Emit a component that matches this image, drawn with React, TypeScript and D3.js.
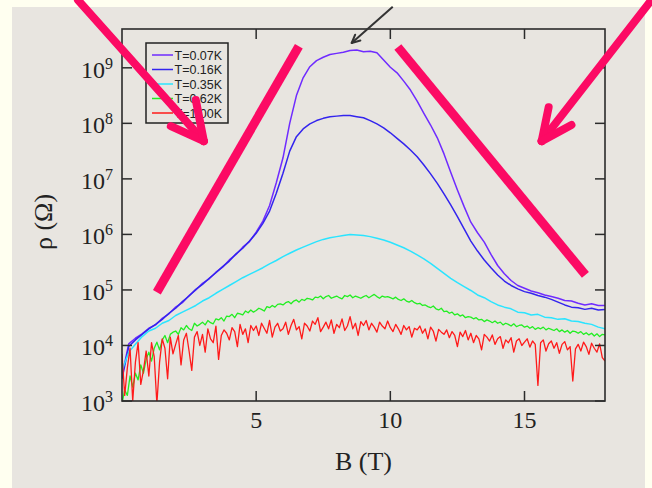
import React from 'react';
import * as d3 from 'd3';

// ---------- data ----------
const xDomain: [number, number] = [0, 18];
const yDomain: [number, number] = [1e3, 5e9];
const xTickValues = [5, 10, 15];
const yTickExponents = [3, 4, 5, 6, 7, 8, 9];
const seriesLabels = ['T=0.07K', 'T=0.16K', 'T=0.35K', 'T=0.62K', 'T=1.00K'];
const seriesColors = ['#6f2bff', '#3324ee', '#2ae4ff', '#22ee22', '#ff1a1a'];

// log10(rho) sampled every 0.25 T from 0 to 18 T
const smoothStep = 0.25;
const logRho007 = [
  3.45, 4.03, 4.13, 4.21, 4.31, 4.37, 4.49, 4.57, 4.69, 4.77, 4.90, 5.00, 5.12, 5.20, 5.32, 5.41,
  5.54, 5.64, 5.77, 5.87, 6.04, 6.24, 6.52, 6.93, 7.38, 8.00, 8.50, 8.82, 9.02, 9.13, 9.19, 9.24,
  9.26, 9.28, 9.31, 9.32, 9.29, 9.30, 9.27, 9.14, 9.01, 8.91, 8.76, 8.60, 8.40, 8.18, 7.97, 7.74,
  7.45, 7.12, 6.80, 6.50, 6.22, 6.03, 5.86, 5.64, 5.44, 5.29, 5.17, 5.08, 5.03, 4.98, 4.95, 4.91,
  4.88, 4.85, 4.81, 4.80, 4.76, 4.73, 4.75, 4.72, 4.72,
];
const logRho016 = [
  3.40, 3.98, 4.10, 4.20, 4.30, 4.38, 4.47, 4.58, 4.67, 4.79, 4.89, 5.01, 5.10, 5.21, 5.31, 5.42,
  5.52, 5.65, 5.75, 5.88, 6.02, 6.20, 6.42, 6.74, 7.10, 7.50, 7.76, 7.90, 7.99, 8.05, 8.09, 8.12,
  8.13, 8.14, 8.14, 8.12, 8.10, 8.05, 7.99, 7.92, 7.83, 7.73, 7.63, 7.52, 7.40, 7.25, 7.09, 6.92,
  6.73, 6.53, 6.32, 6.10, 5.88, 5.70, 5.54, 5.40, 5.27, 5.16, 5.08, 5.02, 4.97, 4.94, 4.90, 4.87,
  4.83, 4.78, 4.73, 4.69, 4.68, 4.65, 4.67, 4.64, 4.65,
];
const logRho035 = [
  3.55, 3.88, 4.02, 4.16, 4.26, 4.31, 4.40, 4.45, 4.54, 4.60, 4.66, 4.72, 4.80, 4.86, 4.94, 5.01,
  5.08, 5.15, 5.22, 5.28, 5.34, 5.40, 5.47, 5.53, 5.60, 5.66, 5.72, 5.77, 5.82, 5.87, 5.91, 5.94,
  5.96, 5.98, 6.00, 5.99, 5.98, 5.96, 5.93, 5.90, 5.86, 5.81, 5.76, 5.70, 5.63, 5.56, 5.48, 5.39,
  5.30, 5.21, 5.13, 5.06, 4.99, 4.91, 4.86, 4.79, 4.73, 4.69, 4.66, 4.60, 4.59, 4.55, 4.56, 4.51,
  4.50, 4.47, 4.48, 4.44, 4.43, 4.40, 4.38, 4.33, 4.30,
];

// log10(rho) sampled every 0.1 T from 0 to 18 T
const noisyStep = 0.1;
const logRho062 = [
  2.95, 3.20, 3.10, 3.45, 3.25, 3.50, 3.38, 3.65, 3.50, 3.75,
  3.88, 3.72, 3.95, 4.06, 3.92, 4.10, 4.18, 4.05, 4.20, 4.24,
  4.26, 4.20, 4.32, 4.28, 4.36, 4.30, 4.27, 4.40, 4.35, 4.38,
  4.42, 4.37, 4.45, 4.41, 4.39, 4.48, 4.46, 4.50, 4.44, 4.53,
  4.52, 4.56, 4.50, 4.58, 4.57, 4.55, 4.62, 4.59, 4.64, 4.60,
  4.63, 4.67, 4.65, 4.62, 4.70, 4.68, 4.72, 4.69, 4.74, 4.75,
  4.73, 4.77, 4.79, 4.75, 4.80, 4.82, 4.78, 4.83, 4.81, 4.85,
  4.84, 4.82, 4.87, 4.86, 4.89, 4.84, 4.88, 4.90, 4.85, 4.87,
  4.89, 4.86, 4.84, 4.90, 4.88, 4.91, 4.86, 4.89, 4.87, 4.85,
  4.88, 4.90, 4.86, 4.89, 4.92, 4.88, 4.85, 4.89, 4.87, 4.88,
  4.86, 4.84, 4.87, 4.83, 4.81, 4.84, 4.80, 4.78, 4.81, 4.77,
  4.75, 4.76, 4.72, 4.73, 4.70, 4.68, 4.71, 4.66, 4.64, 4.67,
  4.61, 4.62, 4.58, 4.60, 4.55, 4.57, 4.53, 4.55, 4.50, 4.52,
  4.51, 4.48, 4.50, 4.46, 4.47, 4.43, 4.46, 4.44, 4.41, 4.44,
  4.40, 4.42, 4.37, 4.40, 4.38, 4.35, 4.39, 4.34, 4.36, 4.37,
  4.33, 4.35, 4.31, 4.34, 4.29, 4.32, 4.30, 4.33, 4.28, 4.31,
  4.29, 4.27, 4.30, 4.25, 4.28, 4.24, 4.27, 4.22, 4.26, 4.25,
  4.22, 4.25, 4.20, 4.23, 4.19, 4.22, 4.17, 4.21, 4.16, 4.20,
  4.19,
];
const logRho100 = [
  3.85, 3.10, 3.60, 3.95, 3.00, 3.70, 4.05, 3.30, 3.55, 3.90,
  3.45, 4.05, 3.80, 2.95, 3.70, 4.12, 3.95, 3.40, 4.15, 3.85,
  4.02, 4.18, 3.65, 4.10, 4.22, 3.90, 3.55, 4.15, 4.25, 4.00,
  4.20, 3.88, 4.30, 4.12, 4.05, 4.35, 3.75, 4.18, 4.28, 4.22,
  4.10, 4.32, 4.25, 3.98, 4.38, 4.20, 4.30, 4.05, 4.36, 4.27,
  4.35, 4.18, 4.40, 4.31, 4.22, 4.45, 4.15, 4.33, 4.40, 4.26,
  4.30, 4.42, 4.20, 4.36, 4.47, 4.28, 4.34, 4.12, 4.40, 4.35,
  4.26, 4.44, 4.38, 4.50, 4.25, 4.33, 4.42, 4.30, 4.46, 4.22,
  4.38, 4.32, 4.48, 4.27, 4.35, 4.52, 4.30, 4.40, 4.18, 4.43,
  4.36, 4.45, 4.28, 4.40, 4.33, 4.24, 4.42, 4.35, 4.30, 4.44,
  4.32, 4.25, 4.38, 4.30, 4.20, 4.36, 4.28, 4.34, 4.15, 4.31,
  4.28, 4.35, 4.22, 4.30, 4.12, 4.33, 4.26, 4.08, 4.29, 4.24,
  4.20, 4.28, 4.14, 4.25, 4.18, 3.98, 4.24, 4.16, 4.27, 4.10,
  4.22, 4.05, 4.18, 4.12, 3.92, 4.20, 4.15, 4.08, 4.19, 4.02,
  4.12, 4.16, 3.95, 4.10, 4.05, 4.14, 3.88, 4.08, 4.12, 4.00,
  4.06, 4.12, 3.97, 4.08, 4.02, 3.28, 4.05, 4.10, 3.90, 4.03,
  4.08, 3.95, 4.05, 3.86, 4.02, 4.07, 3.92, 3.98, 3.36, 3.94,
  4.02, 3.90, 4.06, 3.98, 3.84, 4.04, 3.95, 3.88, 4.03, 3.78,
  3.72,
];

// annotations in data units: [B, log10 rho]
const pinkBars: [number, number][][] = [
  [[1.30, 4.96], [6.59, 9.39]],
  [[10.28, 9.375], [17.27, 5.27]],
];
const pinkArrows: { from: [number, number]; tip: [number, number]; arms: [number, number][] }[] = [
  { from: [-1.64, 10.22], tip: [3.05, 7.68], arms: [[1.82, 7.95], [2.75, 8.42]] },
  { from: [19.73, 10.22], tip: [15.64, 7.68], arms: [[15.90, 8.29], [16.75, 7.97]] },
];
const blackArrow = { from: [10.09, 10.1] as [number, number], tip: [8.56, 9.447] as [number, number] };

// ---------- layout ----------
const W = 652;
const H = 488;
const plot = { left: 122, right: 605, top: 29, bottom: 401 };

export default function App() {
  const x = d3.scaleLinear().domain(xDomain).range([plot.left, plot.right]);
  const y = d3.scaleLog().domain(yDomain).range([plot.bottom, plot.top]);
  const px = (p: [number, number]) => [x(p[0]), y(Math.pow(10, p[1]))];

  const series = [
    { vals: logRho007, step: smoothStep, w: 1.5 },
    { vals: logRho016, step: smoothStep, w: 1.5 },
    { vals: logRho035, step: smoothStep, w: 1.5 },
    { vals: logRho062, step: noisyStep, w: 1.3 },
    { vals: logRho100, step: noisyStep, w: 1.3 },
  ];
  const line = d3
    .line<[number, number]>()
    .x((d) => x(d[0]))
    .y((d) => y(Math.pow(10, d[1])));

  const serif = "'Liberation Serif', 'Times New Roman', serif";
  const sans = "'Liberation Sans', Arial, sans-serif";
  const tickLen = 10;
  const pink = '#fc0a64';

  const legendTop = 43;
  const legendRowY = (i: number) => 55 + i * 14.5;

  // black arrow head
  const [bx0, by0] = px(blackArrow.from);
  const [bx1, by1] = px(blackArrow.tip);
  const ang = Math.atan2(by1 - by0, bx1 - bx0);
  const headLen = 9;
  const head = [ang + Math.PI - 0.45, ang + Math.PI + 0.45].map((a) => [
    bx1 + headLen * Math.cos(a),
    by1 + headLen * Math.sin(a),
  ]);

  return (
    <svg
      width={W}
      height={H}
      style={{ position: 'absolute', left: 0, top: 0, display: 'block' }}
    >
      <defs>
        <clipPath id="plotClip">
          <rect x={plot.left} y={plot.top} width={plot.right - plot.left} height={plot.bottom - plot.top} />
        </clipPath>
      </defs>
      <rect x={0} y={0} width={W} height={H} fill="#fffff0" />
      <rect x={12} y={7} width={633} height={H - 7} fill="#e8e5e0" />

      {/* data */}
      <g clipPath="url(#plotClip)">
        {series.map((s, i) => (
          <path
            key={i}
            d={line(s.vals.map((v, k) => [k * s.step, v] as [number, number])) || ''}
            fill="none"
            stroke={seriesColors[i]}
            strokeWidth={s.w}
            strokeLinejoin="round"
          />
        ))}
      </g>

      {/* frame */}
      <rect
        x={plot.left}
        y={plot.top}
        width={plot.right - plot.left}
        height={plot.bottom - plot.top}
        fill="none"
        stroke="#2b2b2b"
        strokeWidth={1.6}
      />
      {/* x ticks */}
      {xTickValues.map((t) => (
        <g key={'x' + t}>
          <line x1={x(t)} x2={x(t)} y1={plot.bottom} y2={plot.bottom - tickLen} stroke="#2b2b2b" strokeWidth={1.5} />
          <line x1={x(t)} x2={x(t)} y1={plot.top} y2={plot.top + tickLen} stroke="#2b2b2b" strokeWidth={1.5} />
          <text x={x(t)} y={428} textAnchor="middle" fontFamily={serif} fontSize={24} fill="#222">
            {t}
          </text>
        </g>
      ))}
      {/* y ticks */}
      {yTickExponents.map((e) => {
        const yy = y(Math.pow(10, e));
        return (
          <g key={'y' + e}>
            <line x1={plot.left} x2={plot.left + tickLen} y1={yy} y2={yy} stroke="#2b2b2b" strokeWidth={1.5} />
            <line x1={plot.right} x2={plot.right - tickLen} y1={yy} y2={yy} stroke="#2b2b2b" strokeWidth={1.5} />
            <text x={113} y={yy + 10} textAnchor="end" fontFamily={serif} fontSize={24} fill="#222">
              10
              <tspan fontSize={16} dy={-9}>
                {e}
              </tspan>
            </text>
          </g>
        );
      })}

      {/* axis titles */}
      <text
        x={(plot.left + plot.right) / 2}
        y={470}
        textAnchor="middle"
        fontFamily={serif}
        fontSize={26}
        fill="#222"
      >
        B (T)
      </text>
      <text
        transform={`translate(52, 222) rotate(-90)`}
        textAnchor="middle"
        fontFamily={serif}
        fontSize={26}
        fill="#222"
      >
        ρ (Ω)
      </text>

      {/* legend */}
      <rect x={146} y={legendTop} width={82} height={80} fill="none" stroke="#222" strokeWidth={1.5} />
      {seriesLabels.map((lab, i) => (
        <g key={lab}>
          <line x1={152} x2={173} y1={legendRowY(i)} y2={legendRowY(i)} stroke={seriesColors[i]} strokeWidth={1.5} />
          <text x={174.5} y={legendRowY(i) + 4.5} fontFamily={sans} fontSize={12.5} fill="#222">
            {lab}
          </text>
        </g>
      ))}

      {/* pink annotations */}
      {pinkBars.map((b, i) => {
        const [x1, y1] = px(b[0]);
        const [x2, y2] = px(b[1]);
        return <line key={'pb' + i} x1={x1} y1={y1} x2={x2} y2={y2} stroke={pink} strokeWidth={9} />;
      })}
      {pinkArrows.map((a, i) => {
        const [fx, fy] = px(a.from);
        const [tx, ty] = px(a.tip);
        return (
          <g key={'pa' + i}>
            <line x1={fx} y1={fy} x2={tx} y2={ty} stroke={pink} strokeWidth={8} strokeLinecap="round" />
            {a.arms.map((arm, j) => {
              const [ax, ay] = px(arm);
              return (
                <line key={j} x1={tx} y1={ty} x2={ax} y2={ay} stroke={pink} strokeWidth={8} strokeLinecap="round" />
              );
            })}
          </g>
        );
      })}

      {/* black arrow */}
      <line x1={bx0} y1={by0} x2={bx1} y2={by1} stroke="#333" strokeWidth={2} />
      {head.map((h, i) => (
        <line key={'bh' + i} x1={bx1} y1={by1} x2={h[0]} y2={h[1]} stroke="#333" strokeWidth={2} strokeLinecap="round" />
      ))}
    </svg>
  );
}
